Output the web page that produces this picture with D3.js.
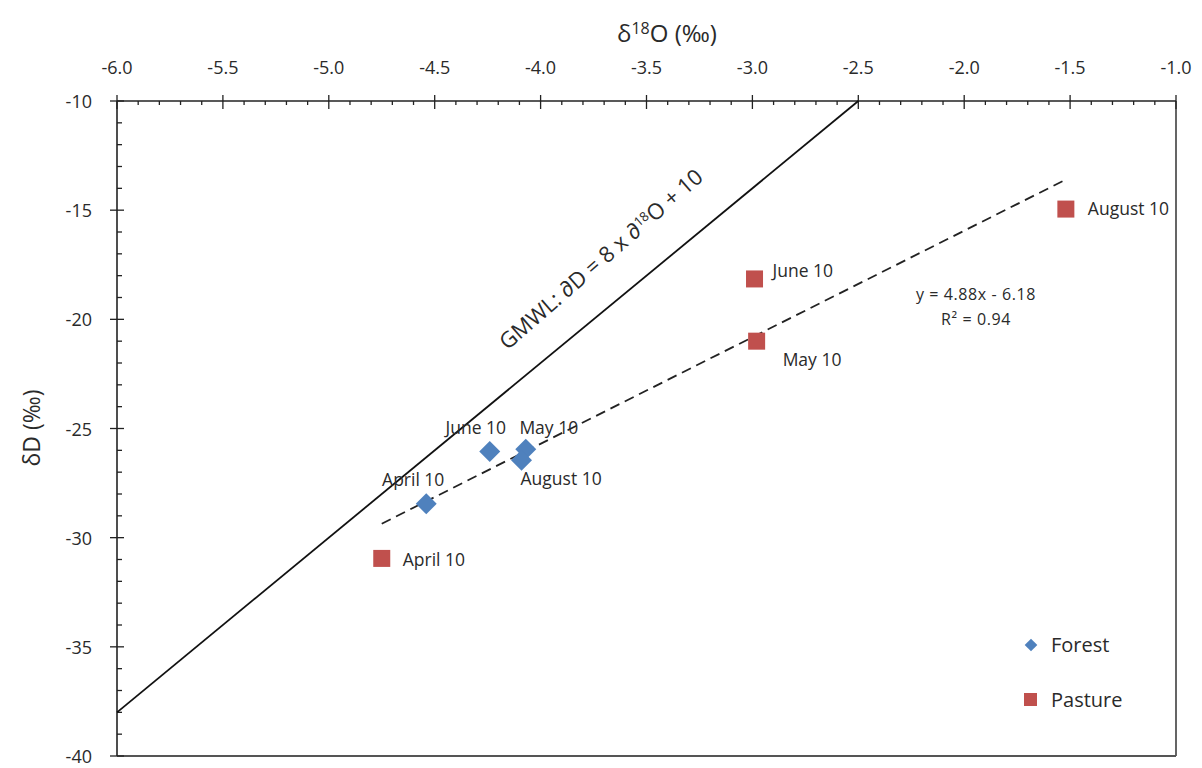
<!DOCTYPE html>
<html><head><meta charset="utf-8">
<script src="https://cdn.jsdelivr.net/npm/d3@7"></script>
<style>body{margin:0;background:#fff}svg{font-family:"Open Sans",sans-serif}</style>
</head><body>
<svg id="c" width="1202" height="768"></svg>
<script>
// Data
const forestLabels = ["April 10","June 10","May 10","August 10"];
const forestO18 = [-4.54,-4.24,-4.07,-4.09];
const forestD = [-28.45,-26.05,-25.95,-26.45];
const pastureLabels = ["April 10","June 10","May 10","August 10"];
const pastureO18 = [-4.75,-2.99,-2.98,-1.52];
const pastureD = [-30.95,-18.15,-21.0,-14.95];
const gmwl = {slope:8, intercept:10, xFrom:-6.0, xTo:-2.5};
const trend = {slope:4.88, intercept:-6.18, xFrom:-4.75, xTo:-1.52};
const xTicks = [-6.0,-5.5,-5.0,-4.5,-4.0,-3.5,-3.0,-2.5,-2.0,-1.5,-1.0];
const yTicks = [-10,-15,-20,-25,-30,-35,-40];

const svg = d3.select("#c");
const L=117,R=1176,T=101,B=756;
const x = d3.scaleLinear().domain([-6,-1]).range([L,R]);
const y = d3.scaleLinear().domain([-10,-40]).range([T,B]);
const blue="#4f81bd", red="#c0504d", txt="#2a2a2a";

// frame right & bottom
svg.append("line").attr("x1",R).attr("x2",R).attr("y1",T).attr("y2",B).attr("stroke","#555").attr("stroke-width",1.8);
svg.append("line").attr("x1",L).attr("x2",R).attr("y1",B).attr("y2",B).attr("stroke","#555").attr("stroke-width",1.8);

// top axis
const gx = svg.append("g");
gx.append("line").attr("x1",L).attr("x2",R).attr("y1",T).attr("y2",T).attr("stroke","#222").attr("stroke-width",1.6);
d3.range(-6,-0.99,0.1).forEach(v=>{
  const major = Math.abs(v*2-Math.round(v*2))<1e-6;
  gx.append("line").attr("x1",x(v)).attr("x2",x(v)).attr("y1",major?T-6:T).attr("y2",major?T+8:T+4).attr("stroke","#222").attr("stroke-width",1.3);
});
xTicks.forEach(v=>{
  gx.append("text").attr("x",x(v)).attr("y",T-27).attr("text-anchor","middle").attr("font-size",18).attr("fill",txt).text(d3.format(".1f")(v).replace("−","-"));
});
svg.append("text").attr("x",667).attr("y",42).attr("text-anchor","middle").attr("font-size",24).attr("fill",txt)
  .html('δ<tspan dy="-8" font-size="16">18</tspan><tspan dy="8">O (‰)</tspan>');

// left axis
const gy = svg.append("g");
gy.append("line").attr("x1",L).attr("x2",L).attr("y1",T).attr("y2",B).attr("stroke","#222").attr("stroke-width",1.6);
d3.range(-10,-40.5,-1).forEach(v=>{
  const major = v%5===0;
  gy.append("line").attr("x1",major?L-7:L).attr("x2",major?L+7:L+5).attr("y1",y(v)).attr("y2",y(v)).attr("stroke","#222").attr("stroke-width",1.3);
});
yTicks.forEach(v=>{
  gy.append("text").attr("x",L-25).attr("y",y(v)+7).attr("text-anchor","end").attr("font-size",18).attr("fill",txt).text(v);
});
svg.append("text").attr("transform","translate(40,428) rotate(-90)").attr("text-anchor","middle").attr("font-size",23).attr("fill",txt).text("δD (‰)");

// GMWL
svg.append("line").attr("x1",x(gmwl.xFrom)).attr("y1",y(gmwl.slope*gmwl.xFrom+gmwl.intercept))
  .attr("x2",x(gmwl.xTo)).attr("y2",y(gmwl.slope*gmwl.xTo+gmwl.intercept)).attr("stroke","#111").attr("stroke-width",1.8);
// trend
svg.append("line").attr("x1",x(trend.xFrom)).attr("y1",y(trend.slope*trend.xFrom+trend.intercept))
  .attr("x2",x(trend.xTo)).attr("y2",y(trend.slope*trend.xTo+trend.intercept)).attr("stroke","#222").attr("stroke-width",1.8).attr("stroke-dasharray","10,6");

// GMWL label
svg.append("text").attr("transform","translate(606,265) rotate(-41)").attr("text-anchor","middle").attr("font-size",22).attr("fill",txt)
  .html('GMWL: ∂D = 8 x ∂<tspan dy="-7" font-size="13">18</tspan><tspan dy="7">O + 10</tspan>');

// trend label
svg.append("text").attr("x",976).attr("y",300).attr("text-anchor","middle").attr("font-size",16).attr("letter-spacing",0.6).attr("fill",txt).text("y = 4.88x - 6.18");
svg.append("text").attr("x",976).attr("y",325).attr("text-anchor","middle").attr("font-size",16).attr("letter-spacing",0.6).attr("fill",txt).text("R² = 0.94");

// pasture squares
const pastureData = pastureLabels.map((l,i)=>({l,x:pastureO18[i],y:pastureD[i]}));
svg.selectAll(".p").data(pastureData).enter().append("rect")
  .attr("x",d=>x(d.x)-8.5).attr("y",d=>y(d.y)-8.5).attr("width",17).attr("height",17).attr("fill",red);
const pOff=[[21,8,"start"],[18,-2,"start"],[26,25,"start"],[22,6,"start"]];
svg.selectAll(".pl").data(pastureData).enter().append("text")
  .attr("x",(d,i)=>x(d.x)+pOff[i][0]).attr("y",(d,i)=>y(d.y)+pOff[i][1]).attr("text-anchor",(d,i)=>pOff[i][2])
  .attr("font-size",17.5).attr("fill",txt).text(d=>d.l);

// forest diamonds
const forestData = forestLabels.map((l,i)=>({l,x:forestO18[i],y:forestD[i]}));
const dsym = d3.symbol().type(d3.symbolSquare).size(220);
svg.selectAll(".f").data(forestData).enter().append("path")
  .attr("d",dsym).attr("transform",d=>`translate(${x(d.x)},${y(d.y)}) rotate(45)`).attr("fill",blue);
const fOff=[[-13,-18,"middle"],[-14,-17,"middle"],[23,-15,"middle"],[-1,25,"start"]];
svg.selectAll(".fl").data(forestData).enter().append("text")
  .attr("x",(d,i)=>x(d.x)+fOff[i][0]).attr("y",(d,i)=>y(d.y)+fOff[i][1]).attr("text-anchor",(d,i)=>fOff[i][2])
  .attr("font-size",17.5).attr("fill",txt).text(d=>d.l);

// legend
svg.append("path").attr("d",d3.symbol().type(d3.symbolSquare).size(80)).attr("transform","translate(1031,645) rotate(45)").attr("fill",blue);
svg.append("text").attr("x",1051).attr("y",652).attr("font-size",20).attr("fill",txt).text("Forest");
svg.append("rect").attr("x",1024).attr("y",693).attr("width",13).attr("height",13).attr("fill",red);
svg.append("text").attr("x",1051).attr("y",707).attr("font-size",20).attr("fill",txt).text("Pasture");
</script>
</body></html>
